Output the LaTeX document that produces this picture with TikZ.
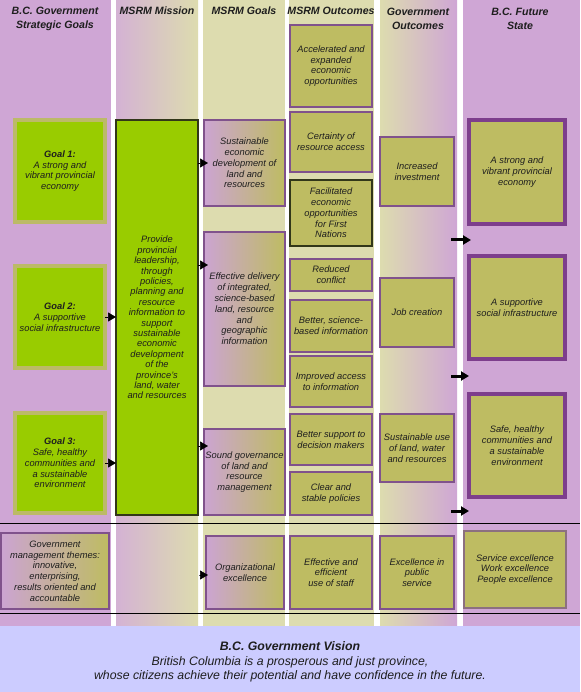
\documentclass[tikz,border=0pt]{standalone}
\usepackage{fontspec}
\setmainfont{Liberation Sans}
\usetikzlibrary{arrows.meta}
\definecolor{purp}{RGB}{207,166,213}
\definecolor{purplt}{RGB}{212,178,212}
\definecolor{khak}{RGB}{221,220,175}
\definecolor{olive}{RGB}{190,188,98}
\definecolor{grn}{RGB}{153,204,0}
\definecolor{gbord}{RGB}{188,186,104}
\definecolor{bord}{RGB}{128,82,140}
\definecolor{dpurp}{RGB}{125,62,140}
\definecolor{blueb}{RGB}{204,204,255}
\definecolor{txt}{RGB}{30,30,30}
\definecolor{gpurp}{RGB}{204,164,210}
\definecolor{darkb}{RGB}{50,55,25}
\definecolor{greyb}{RGB}{140,112,128}
\newcommand\mybx[7]{\node[#6,minimum width={(#4)-(#2)},minimum height={(#5)-(#3)}] (#1) at ({((#2)+(#4))/2},{((#3)+(#5))/2}) {#7};}
\begin{document}
\begin{tikzpicture}[x=1pt,y=-1pt,
  base/.style={rectangle,inner sep=0pt,outer sep=0pt,align=center,text=txt,
    font=\itshape\fontsize{9.3}{10.8}\selectfont},
  goalbox/.style={base,fill=grn,draw=gbord,line width=3.5pt},
  missbox/.style={base,fill=grn,draw=darkb,line width=1.2pt,
    font=\itshape\fontsize{9.3}{10.4}\selectfont},
  gradbox/.style={base,left color=gpurp,right color=olive,draw=bord,line width=1.2pt},
  outbox/.style={base,fill=olive,draw=bord,line width=1.2pt},
  darkbox/.style={base,fill=olive,draw=darkb,line width=1.2pt},
  futbox/.style={base,fill=olive,draw=dpurp,line width=4pt},
  greybox/.style={base,fill=olive,draw=greyb,line width=1.2pt},
  head/.style={align=center,text=txt,inner sep=0pt,
    font=\bfseries\itshape\fontsize{10.6}{13.5}\selectfont},
  tri/.style={-{Triangle[length=8pt,width=9pt]},line width=0.6pt,black},
  fat/.style={-{Triangle[length=8pt,width=9pt]},line width=3pt,black}]
\useasboundingbox (0,0) rectangle (580,692);
% column backgrounds
\fill[white] (0,0) rectangle (580,692);
\fill[purp] (0,0) rectangle (111,626);
\shade[left color=purplt,right color=khak] (116,0) rectangle (198,626);
\fill[khak] (203,0) rectangle (285,626);
\fill[khak] (289,0) rectangle (374,626);
\shade[left color=khak,right color=purp] (380,0) rectangle (457,626);
\fill[purp] (463,0) rectangle (580,626);
\fill[blueb] (0,626) rectangle (580,692);
\draw[line width=0.8pt,black] (0,523) -- (580,523);
\draw[line width=0.8pt,black] (0,613) -- (580,613);
% headers
\node[head] (h1) at (55,19) {B.C. Government\\Strategic Goals};
\node[head] (h2) at (157,11) {MSRM Mission};
\node[head] (h3) at (244,11) {MSRM Goals};
\node[head] (h4) at (331,11) {MSRM Outcomes};
\node[head] (h5) at (418,19) {Government\\Outcomes};
\node[head] (h6) at (520,19) {B.C. Future\\State};
% column 1
\mybx{g1}{15}{120}{105}{222}{goalbox}{\textbf{Goal 1:}\\A strong and\\vibrant provincial\\economy}
\mybx{g2}{15}{266}{105}{368}{goalbox}{\textbf{Goal 2:}\\A supportive\\social infrastructure}
\mybx{g3}{15}{413}{105}{513}{goalbox}{\textbf{Goal 3:}\\Safe, healthy\\communities and\\a sustainable\\environment}
\mybx{th}{1}{533}{109}{609}{gradbox}{Government\\management themes:\\innovative,\\enterprising,\\results oriented and\\accountable}
% column 2
\mybx{mis}{116}{120}{198}{515}{missbox}{Provide\\provincial\\leadership,\\through\\policies,\\planning and\\resource\\information to\\support\\sustainable\\economic\\development\\of the\\province's\\land, water\\and resources}
% column 3
\mybx{sg1}{204}{120}{285}{206}{gradbox}{Sustainable\\economic\\development of\\land and\\resources}
\mybx{sg2}{204}{232}{285}{386}{gradbox}{Effective delivery\\of integrated,\\science-based\\land, resource\\and\\geographic\\information}
\mybx{sg3}{204}{429}{285}{515}{gradbox}{Sound governance\\of land and\\resource\\management}
\mybx{sg4}{206}{536}{284}{609}{gradbox}{Organizational\\excellence}
% column 4
\mybx{o1}{290}{25}{372}{107}{outbox}{Accelerated and\\expanded\\economic\\opportunities}
\mybx{o2}{290}{112}{372}{172}{outbox}{Certainty of\\resource access}
\mybx{o3}{290}{180}{372}{246}{darkbox}{Facilitated\\economic\\opportunities\\for First\\Nations}
\mybx{o4}{290}{259}{372}{291}{outbox}{Reduced\\conflict}
\mybx{o5}{290}{300}{372}{352}{outbox}{Better, science-\\based information}
\mybx{o6}{290}{356}{372}{407}{outbox}{Improved access\\to information}
\mybx{o7}{290}{414}{372}{465}{outbox}{Better support to\\decision makers}
\mybx{o8}{290}{472}{372}{515}{outbox}{Clear and\\stable policies}
\mybx{o9}{290}{536}{372}{609}{outbox}{Effective and\\efficient\\use of staff}
% column 5
\mybx{go1}{380}{137}{454}{206}{outbox}{Increased\\investment}
\mybx{go2}{380}{278}{454}{347}{outbox}{Job creation}
\mybx{go3}{380}{414}{454}{482}{outbox}{Sustainable use\\of land, water\\and resources}
\mybx{go4}{380}{536}{454}{609}{outbox}{Excellence in\\public\\service}
% column 6
\mybx{f1}{469}{120}{565}{224}{futbox}{A strong and\\vibrant provincial\\economy}
\mybx{f2}{469}{256}{565}{359}{futbox}{A supportive\\social infrastructure}
\mybx{f3}{469}{394}{565}{497}{futbox}{Safe, healthy\\communities and\\a sustainable\\environment}
\mybx{f4}{464}{531}{566}{608}{greybox}{Service excellence\\Work excellence\\People excellence}
% vision
\node[align=center,text=txt,inner sep=0pt,font=\itshape\fontsize{12.3}{14.5}\selectfont] (vis) at (290,662)
  {\textbf{B.C. Government Vision}\\British Columbia is a prosperous and just province,\\whose citizens achieve their potential and have confidence in the future.};
% connectors
\draw[tri] (g2.east) -- (mis.west |- g2.east);
\draw[tri] (g3.east) -- (mis.west |- g3.east);
\draw[tri] (mis.east |- sg1.west) -- ([xshift=4pt]sg1.west);
\coordinate (a2) at (208,265);
\coordinate (a3) at (208,446);
\coordinate (a4s) at (199,575);
\draw[tri] (mis.east |- a2) -- (a2);
\draw[tri] (mis.east |- a3) -- (a3);
\draw[tri] (a4s) -- (sg4.west |- a4s) -- ++(2,0);
\coordinate (r1s) at (451,240); \coordinate (r1e) at (471,240);
\coordinate (r2s) at (451,376); \coordinate (r2e) at (469,376);
\coordinate (r3s) at (451,511); \coordinate (r3e) at (469,511);
\draw[fat] (r1s) -- (r1e);
\draw[fat] (r2s) -- (r2e);
\draw[fat] (r3s) -- (r3e);
\end{tikzpicture}
\end{document}
